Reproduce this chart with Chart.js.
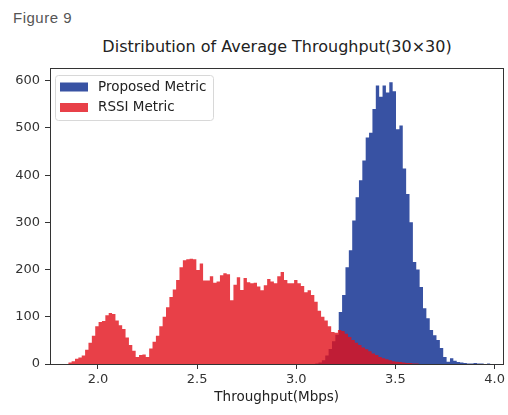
<!doctype html>
<html lang="en">
  <head>
    <meta charset="utf-8">
    <title>Distribution of Average Throughput(30×30)</title>
    <style>
      * {
        margin: 0;
        padding: 0;
      }
      body {
        width: 508px;
        height: 415px;
        background: #fff;
        position: relative;
        overflow: hidden;
      }
      .figLabel {
        position: absolute;
        left: 13px;
        top: 9px;
        font: 15px 'Liberation Sans', sans-serif;
        letter-spacing: 0.5px;
        color: #555;
      }
      .chartTitle {
        position: absolute;
        left: 50px;
        width: 454px;
        top: 37px;
        text-align: center;
        font: 16px/20px 'DejaVu Sans', sans-serif;
        color: #222;
      }
      .chartBox {
        position: absolute;
        left: 0;
        top: 0;
        width: 508px;
        height: 415px;
      }
    </style>
  </head>
  <body>
    <div class="figLabel">Figure 9</div>
    <div class="chartTitle">Distribution of Average Throughput(30×30)</div>
    <div class="chartBox">
      <canvas id="myChart"></canvas>
    </div>
    <script src="https://cdn.jsdelivr.net/npm/chart.js/dist/chart.umd.min.js"></script>
    <script>
    // histogram bins (Mbps), both series share the same bin width
    const binWidth = 0.017;
    const proposedStart = 3.095;
    const rssiStart = 1.85;

    const proposedCounts = [
      1, 3, 8, 18, 32, 48, 62, 110, 146, 205,
      241, 304, 353, 389, 431, 480, 490, 540, 590, 566,
      590, 575, 597, 578, 497, 505, 414, 360, 300, 216,
      200, 163, 118, 97, 72, 61, 51, 34, 15, 5,
      12, 7, 4, 3, 2, 1, 1, 2, 1, 1, 0, 1
    ];
    const rssiCounts = [
      3, 6, 11, 14, 18, 30, 45, 60, 80, 89,
      91, 103, 108, 106, 92, 82, 74, 56, 40, 28,
      15, 19, 20, 15, 33, 47, 60, 80, 100, 120,
      142, 158, 178, 205, 220, 222, 223, 222, 199, 213,
      177, 177, 186, 172, 175, 188, 192, 190, 135, 168,
      184, 157, 182, 173, 171, 172, 164, 156, 167, 180,
      175, 171, 186, 195, 178, 171, 171, 178, 171, 165,
      152, 156, 146, 132, 113, 100, 92, 80, 68, 66,
      72, 70, 64, 57, 51, 45, 40, 35, 31, 27,
      22, 19, 15, 12, 10, 8, 6, 5, 4, 3,
      2, 2, 1, 1
    ];

    const xTicks = [2.0, 2.5, 3.0, 3.5, 4.0];
    const yTicks = [0, 100, 200, 300, 400, 500, 600];

    // bin centers plus both outer edges, drawn as a stepped filled line
    function toSteps(start, counts) {
      const pts = [{x: start, y: counts[0]}];
      counts.forEach((c, i) => pts.push({x: start + (i + 0.5) * binWidth, y: c}));
      pts.push({x: start + counts.length * binWidth, y: counts[counts.length - 1]});
      return pts;
    }

    const frameAndLegend = {
      id: 'frameAndLegend',
      afterDatasetsDraw(chart) {
        const {ctx, chartArea: a} = chart;
        ctx.save();
        ctx.strokeStyle = '#333';
        ctx.lineWidth = 1;
        ctx.strokeRect(Math.round(a.left) + 0.5, Math.round(a.top) + 0.5,
          Math.round(a.width) - 1, Math.round(a.height));

        const x = Math.round(a.left) + 5, y = Math.round(a.top) + 7, w = 158, h = 45;
        ctx.fillStyle = 'rgba(255,255,255,0.8)';
        ctx.strokeStyle = '#d8d8d8';
        ctx.beginPath();
        ctx.roundRect(x + 0.5, y + 0.5, w, h, 3);
        ctx.fill();
        ctx.stroke();
        ctx.font = '13.5px "DejaVu Sans"';
        ctx.textBaseline = 'middle';
        chart.data.datasets.forEach((ds, i) => {
          const rowY = y + 12 + i * 20.5;
          ctx.fillStyle = ds.backgroundColor;
          ctx.fillRect(x + 5, rowY - 4.5, 28, 9);
          ctx.fillStyle = '#222';
          ctx.fillText(ds.label, x + 43, rowY);
        });
        ctx.restore();
      }
    };

    const data = {
      datasets: [{
        label: 'Proposed Metric',
        data: toSteps(proposedStart, proposedCounts),
        backgroundColor: 'rgb(56, 82, 163)',
        borderWidth: 0,
        pointRadius: 0,
        fill: 'origin',
        stepped: 'middle',
        order: 1
      }, {
        label: 'RSSI Metric',
        data: toSteps(rssiStart, rssiCounts),
        backgroundColor: 'rgba(226, 16, 26, 0.8)',
        borderWidth: 0,
        pointRadius: 0,
        fill: 'origin',
        stepped: 'middle',
        order: 0
      }]
    };

    const config = {
      type: 'line',
      data,
      plugins: [frameAndLegend],
      options: {
        responsive: true,
        maintainAspectRatio: false,
        animation: false,
        layout: {
          padding: {top: 68, right: 4, left: 0, bottom: 0}
        },
        plugins: {
          legend: {display: false},
          tooltip: {enabled: false}
        },
        scales: {
          x: {
            type: 'linear',
            min: 1.758,
            max: 4.045,
            afterBuildTicks: s => { s.ticks = xTicks.map(v => ({value: v})); },
            afterFit: s => { s.height = 51; },
            ticks: {
              callback: v => v.toFixed(1),
              color: '#333',
              font: {family: 'DejaVu Sans', size: 13},
              padding: 3,
              maxRotation: 0,
              autoSkip: false
            },
            grid: {drawOnChartArea: false, tickLength: 5, color: '#333'},
            border: {display: false},
            title: {
              display: true,
              text: 'Throughput(Mbps)',
              color: '#222',
              font: {family: 'DejaVu Sans', size: 13.5},
              padding: {top: 0, bottom: 9}
            }
          },
          y: {
            type: 'linear',
            min: 0,
            max: 627,
            afterBuildTicks: s => { s.ticks = yTicks.map(v => ({value: v})); },
            afterFit: s => { s.width = 50; },
            ticks: {
              color: '#333',
              font: {family: 'DejaVu Sans', size: 13},
              padding: 5
            },
            grid: {drawOnChartArea: false, tickLength: 5, color: '#333'},
            border: {display: false}
          }
        }
      }
    };

    const myChart = new Chart(document.getElementById('myChart'), config);
    </script>
  </body>
</html>
